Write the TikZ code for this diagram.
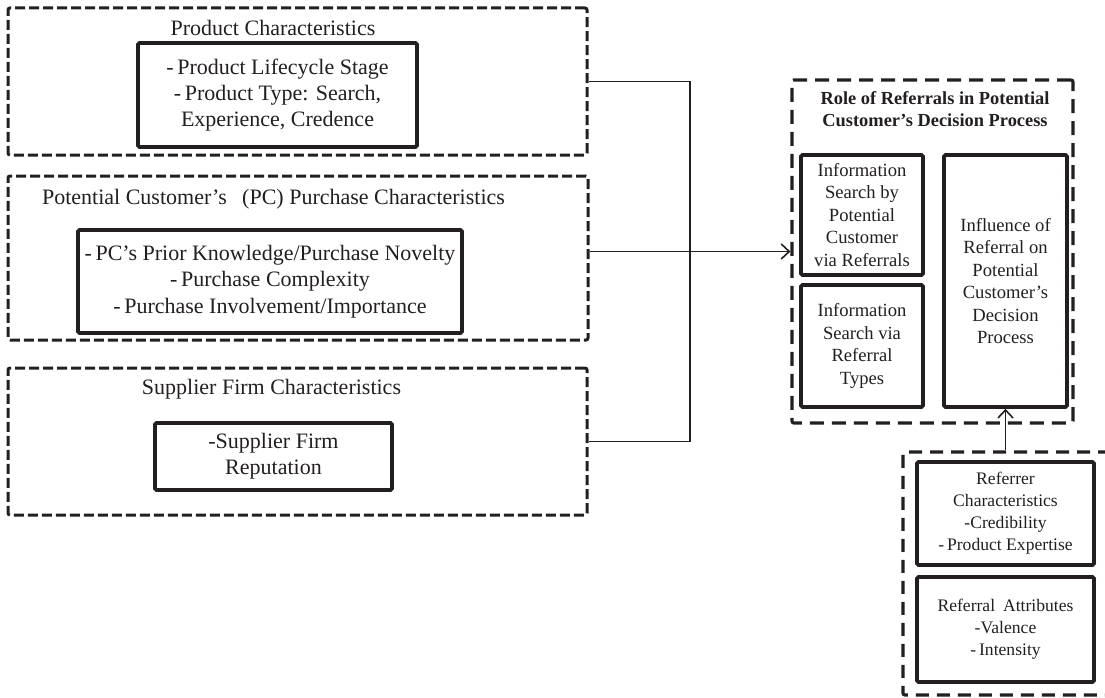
\documentclass[tikz,border=0pt]{standalone}
\usepackage{fontspec}
\setmainfont{Liberation Serif}
\usetikzlibrary{arrows.meta}
\definecolor{ink}{HTML}{231F20}
\begin{document}
\begin{tikzpicture}[x=1pt,y=-1pt,
  every node/.style={text=ink},
  outerbox/.style={draw=ink, line width=3pt, dash pattern=on 10pt off 4pt, rounded corners=2pt, inner sep=0pt},
  groupbox/.style={draw=ink, line width=3.2pt, dash pattern=on 14pt off 8pt, rounded corners=2pt, inner sep=0pt},
  solidbox/.style={draw=ink, line width=3.6pt, rounded corners=1.5pt, align=center, inner sep=0pt},
  bigtext/.style={font=\fontsize{22}{26.4}\selectfont},
  midtext/.style={font=\fontsize{18.6}{22.5}\selectfont},
  smalltext/.style={font=\fontsize{17.6}{22}\selectfont},
  titletext/.style={font=\fontsize{18.4}{22}\selectfont\bfseries, align=center},
  link/.style={draw=ink, line width=1.5pt},
  arrowlink/.style={link, -{Straight Barb[length=8pt,width=15pt,line width=1.6pt]}}
]
\useasboundingbox (0,0) rectangle (1105,698);

% ---- left column: three characteristic groups ----
\node[outerbox, minimum width=579pt, minimum height=147pt] (prod) at (297.5,81.5) {};
\node[bigtext] (prodT) at (273,28) {Product Characteristics};
\node[solidbox, bigtext, minimum width=279pt, minimum height=104pt] (prodI) at (277.5,95)
  {-\,Product Lifecycle Stage\\ -\,Product Type: Search,\\ Experience, Credence};

\node[outerbox, minimum width=580pt, minimum height=164pt] (purch) at (298,258) {};
\node[bigtext] (purchT) at (273.5,199) {Potential Customer's\hspace{0.45em} (PC) Purchase Characteristics};
\node[solidbox, bigtext, minimum width=384pt, minimum height=103pt] (purchI) at (270,281.5)
  {-\,PC's Prior Knowledge/Purchase Novelty\\ -\,Purchase Complexity\\ -\,Purchase Involvement/Importance};

\node[outerbox, minimum width=579pt, minimum height=147pt] (supp) at (297.5,441.5) {};
\node[bigtext] (suppT) at (271.5,389) {Supplier Firm Characteristics};
\node[solidbox, bigtext, minimum width=237pt, minimum height=67pt] (suppI) at (273.5,456.5)
  {-Supplier Firm\\ Reputation};

% ---- right: role of referrals ----
\node[groupbox, minimum width=281pt, minimum height=343pt] (role) at (932.5,251.5) {};
\node[titletext] (roleT) at (935,109) {Role of Referrals in Potential\\ Customer's Decision Process};
\node[solidbox, midtext, minimum width=122pt, minimum height=120pt] (srchA) at (862,215)
  {Information\\ Search by\\ Potential\\ Customer\\ via Referrals};
\node[solidbox, midtext, minimum width=122pt, minimum height=122pt] (srchB) at (862,346)
  {Information\\ Search via\\ Referral\\ Types};
\node[solidbox, midtext, minimum width=123pt, minimum height=252pt] (infl) at (1005.5,281)
  {Influence of\\ Referral on\\ Potential\\ Customer's\\ Decision\\ Process};

% ---- lower right: referrer and referral (runs off the right edge) ----
\node[groupbox, dash pattern=on 13pt off 8pt, minimum width=210pt, minimum height=243pt] (refg) at (1008,573.5) {};
\node[solidbox, smalltext, minimum width=177pt, minimum height=103pt] (refr) at (1005.5,513.5)
  {Referrer\\ Characteristics\\ -Credibility\\ -\,Product Expertise};
\node[solidbox, smalltext, minimum width=177pt, minimum height=105pt] (attr) at (1005.5,629.5)
  {Referral\hspace{0.45em}Attributes\\ -Valence\\ -\,Intensity};

% ---- connectors ----
\coordinate (bus) at (690,82);
\draw[link] (prod.east) -- (prod.east -| bus) -- (supp.east -| bus) -- (supp.east);
\draw[arrowlink] (purch.east |- role.west) -- (role.west);
\draw[arrowlink] (infl.south |- refg.north) -- (infl.south);
\end{tikzpicture}
\end{document}
